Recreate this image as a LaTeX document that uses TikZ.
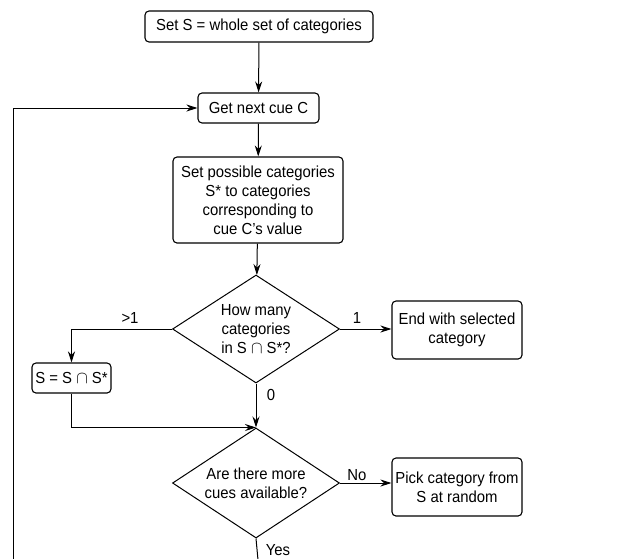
\documentclass[tikz,border=0pt]{standalone}
\usepackage{fontspec}
\setmainfont[FakeStretch=0.93]{Liberation Sans}
\usetikzlibrary{shapes.geometric,arrows.meta}
\begin{document}
\begin{tikzpicture}[x=1pt,y=-1pt,
  every node/.style={font=\fontsize{16}{19}\selectfont},
  box/.style={draw,rounded corners=4pt,line width=1.1pt,inner sep=0pt,align=center},
  dia/.style={draw,diamond,line width=1pt,inner sep=0pt,aspect=1.55,align=center,minimum width=167pt,minimum height=108pt},
  conn/.style={line width=1pt,-{Stealth[length=11pt,width=7pt]}},
  lbl/.style={inner sep=0pt}]
\useasboundingbox[fill=white] (0,0) rectangle (617,558);
\node[box,minimum width=228pt,minimum height=31pt] (top) at (259,26.5) {Set S = whole set of categories};
\node[box,minimum width=121pt,minimum height=30pt] (get) at (258.5,108) {Get next cue C};
\node[box,minimum width=170pt,minimum height=86pt] (setp) at (258,200) {Set possible categories\\S* to categories\\corresponding to\\cue C's value};
\node[dia] (d1) at (256,329) {How many\\categories\\in S $\cap$ S*?};
\node[box,minimum width=130pt,minimum height=58pt] (end) at (457,330) {End with selected\\category};
\node[box,minimum width=79pt,minimum height=30pt] (sbox) at (71.5,378) {S = S $\cap$ S*};
\node[dia,minimum height=110pt] (d2) at (256,483) {Are there more\\cues available?};
\node[box,minimum width=130pt,minimum height=58pt] (pick) at (457,487) {Pick category from\\S at random};
\coordinate (yesend) at (258,560);
\coordinate (loopend) at (13,560);
\draw[conn] (top) -- (get);
\draw[conn] (get) -- (setp);
\draw[conn] (setp) -- (d1);
\draw[conn] (d1.east) -- (end.west |- d1.east);
\draw[conn] (d1.west) -| (sbox.north);
\draw[conn] (d1.south) -- (d2.north);
\draw[conn] (sbox.south) |- (d2.north);
\draw[conn] (d2.east) -- (pick.west |- d2.east);
\draw[line width=1pt] (d2.south) -- (yesend);
\draw[conn] (loopend) |- (get.west);
\node[lbl] (l1) at (130,318) {>1};
\node[lbl] (l2) at (357,318) {1};
\node[lbl] (l3) at (271,395) {0};
\node[lbl] (l4) at (357,475) {No};
\node[lbl] (l5) at (278,550) {Yes};
\end{tikzpicture}
\end{document}
